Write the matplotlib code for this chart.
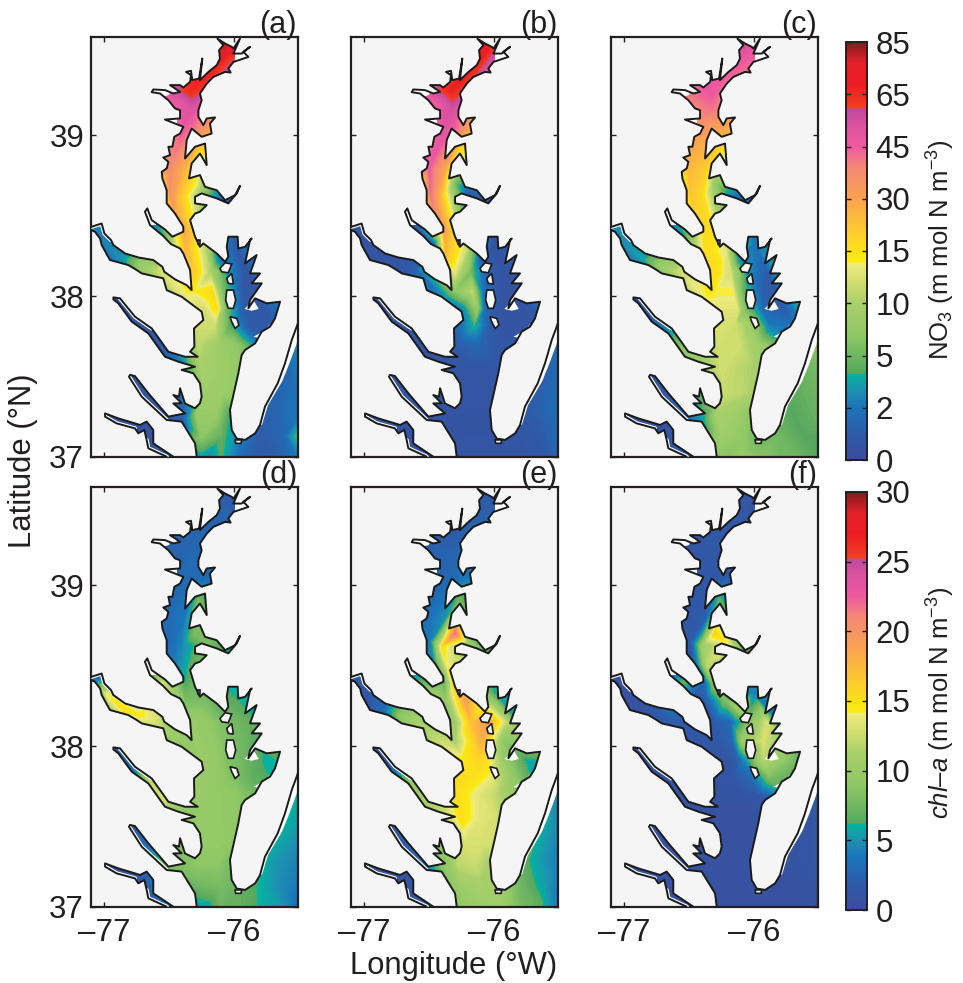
import numpy as np
import matplotlib
matplotlib.use("Agg")
import matplotlib.pyplot as plt
from matplotlib.colors import LinearSegmentedColormap, Normalize
from matplotlib.cm import ScalarMappable
from matplotlib.patches import Polygon
from matplotlib.tri import Triangulation

plt.rcParams['font.family'] = ['Liberation Sans', 'DejaVu Sans']
plt.rcParams['mathtext.fontset'] = 'custom'
plt.rcParams['mathtext.rm'] = 'Liberation Sans'
plt.rcParams['mathtext.it'] = 'Liberation Sans:italic'
plt.rcParams['mathtext.default'] = 'regular'

# ---------- shoreline (lon, lat) ----------
COAST = [
 (-76.128,39.600),(-76.082,39.559),(-76.115,39.528),(-76.108,39.476),(-76.133,39.435),(-76.197,39.393),
 (-76.262,39.342),(-76.244,39.476),(-76.269,39.352),(-76.321,39.342),(-76.331,39.400),(-76.369,39.393),
 (-76.331,39.373),(-76.338,39.331),(-76.390,39.296),(-76.415,39.311),(-76.492,39.311),(-76.415,39.269),
 (-76.467,39.259),(-76.531,39.280),(-76.621,39.284),(-76.633,39.267),(-76.569,39.259),(-76.505,39.217),
 (-76.454,39.166),(-76.415,39.155),(-76.415,39.104),(-76.531,39.097),(-76.441,39.068),(-76.390,39.052),
 (-76.415,39.010),(-76.459,38.990),(-76.474,38.928),(-76.505,38.928),(-76.492,38.876),(-76.544,38.861),
 (-76.505,38.834),(-76.518,38.793),(-76.556,38.772),(-76.551,38.731),(-76.518,38.658),(-76.518,38.576),
 (-76.454,38.513),(-76.390,38.431),(-76.390,38.400),(-76.474,38.369),(-76.531,38.414),(-76.633,38.472),
 (-76.667,38.545),(-76.685,38.524),(-76.646,38.441),(-76.544,38.373),(-76.485,38.323),(-76.415,38.296),
 (-76.390,38.265),(-76.338,38.162),(-76.326,38.037),(-76.364,38.068),(-76.454,38.104),(-76.536,38.151),
 (-76.551,38.182),(-76.621,38.224),(-76.736,38.240),(-76.838,38.265),(-76.928,38.317),(-76.946,38.348),
 (-76.997,38.389),(-77.018,38.451),(-77.095,38.431),(-77.150,38.400),(-77.100,38.410),(-77.070,38.400),
 (-77.030,38.358),(-77.018,38.317),(-76.954,38.224),(-76.813,38.193),(-76.749,38.162),(-76.710,38.141),
 (-76.544,38.110),(-76.518,38.037),(-76.403,37.996),(-76.249,37.903),(-76.236,37.851),(-76.308,37.799),
 (-76.305,37.686),(-76.338,37.654),(-76.279,37.623),(-76.377,37.623),(-76.505,37.654),(-76.569,37.727),
 (-76.633,37.799),(-76.762,37.872),(-76.877,37.986),(-76.928,37.992),(-76.928,37.979),(-76.890,37.955),
 (-76.787,37.841),(-76.659,37.768),(-76.531,37.623),(-76.428,37.592),(-76.300,37.561),(-76.403,37.541),
 (-76.313,37.520),(-76.262,37.458),(-76.249,37.375),(-76.262,37.334),(-76.300,37.303),(-76.377,37.333),
 (-76.415,37.427),(-76.423,37.375),(-76.467,37.385),(-76.403,37.334),(-76.467,37.333),(-76.377,37.271),
 (-76.505,37.251),(-76.659,37.396),(-76.762,37.503),(-76.800,37.510),(-76.808,37.499),(-76.710,37.375),
 (-76.518,37.230),(-76.403,37.220),(-76.300,37.085),(-76.287,37.002),(-76.295,36.961),(-76.459,36.961),
 (-76.467,37.002),(-76.621,37.085),(-76.621,37.168),(-76.672,37.220),(-76.723,37.199),(-76.762,37.209),
 (-76.890,37.240),(-76.992,37.271),(-76.992,37.251),(-76.903,37.209),(-76.762,37.178),(-76.736,37.147),
 (-76.690,37.168),(-76.672,37.106),(-76.659,37.054),(-76.518,37.002),(-76.518,36.900),(-75.300,36.900),
 (-75.300,37.900),(-75.480,37.900),(-75.518,37.810),(-75.556,37.727),(-75.608,37.582),(-75.664,37.458),
 (-75.762,37.313),(-75.800,37.199),(-75.838,37.147),(-75.915,37.106),(-75.941,37.110),(-75.979,37.114),
 (-76.018,37.168),(-76.031,37.292),(-75.967,37.520),(-75.941,37.634),(-75.915,37.665),(-75.838,37.706),
 (-75.787,37.779),(-75.723,37.810),(-75.685,37.861),(-75.646,37.965),(-75.749,37.955),(-75.838,37.986),
 (-75.890,37.924),(-75.877,37.975),(-75.787,38.079),(-75.864,38.079),(-75.800,38.141),(-75.877,38.141),
 (-75.826,38.255),(-75.915,38.203),(-75.877,38.348),(-75.864,38.358),(-75.915,38.306),(-75.967,38.296),
 (-75.972,38.369),(-76.044,38.369),(-76.056,38.306),(-76.044,38.244),(-76.069,38.213),(-76.133,38.265),
 (-76.236,38.327),(-76.262,38.306),(-76.300,38.369),(-76.338,38.472),(-76.300,38.513),(-76.262,38.524),
 (-76.210,38.565),(-76.300,38.576),(-76.300,38.617),(-76.249,38.638),(-76.133,38.607),(-76.044,38.576),
 (-75.979,38.638),(-75.954,38.685),(-75.992,38.627),(-76.069,38.596),(-76.133,38.658),(-76.223,38.679),
 (-76.262,38.752),(-76.346,38.731),(-76.326,38.824),(-76.262,38.886),(-76.210,38.814),(-76.223,38.948),
 (-76.300,38.928),(-76.377,38.855),(-76.364,38.969),(-76.326,39.041),(-76.249,38.990),(-76.172,39.010),
 (-76.185,39.072),(-76.146,39.110),(-76.210,39.104),(-76.236,39.062),(-76.274,39.114),(-76.274,39.155),
 (-76.249,39.217),(-76.262,39.259),(-76.210,39.320),(-76.159,39.362),(-76.069,39.393),(-76.026,39.389),
 (-76.044,39.414),(-76.005,39.455),
 (-75.890,39.486),(-75.928,39.518),(-75.877,39.549),(-75.941,39.507),(-76.005,39.507),(-75.954,39.600),
 (-76.005,39.538),(-76.018,39.549),(-76.070,39.570),
]
ISLANDS = [
 [(-76.056,38.037),(-76.005,38.037),(-75.987,37.975),(-76.005,37.924),(-76.044,37.924),(-76.064,37.975)],
 [(-76.031,37.872),(-75.979,37.861),(-75.962,37.820),(-75.992,37.799),(-76.018,37.841)],
 [(-76.108,38.172),(-76.069,38.207),(-76.018,38.199),(-76.044,38.145),(-76.095,38.151)],
 [(-76.056,38.110),(-76.018,38.141),(-76.005,38.075),(-76.044,38.079)],
 [(-75.992,37.106),(-75.941,37.106),(-75.946,37.085),(-75.987,37.085)],
 [(-76.275,38.350),(-76.258,38.350),(-76.258,38.325),(-76.275,38.325)],
]
# Water areas the model field does not cover (left white in all panels)
UNCOVERED = [
 [(-75.518,37.81),(-75.556,37.727),(-75.608,37.582),(-75.664,37.458),(-75.762,37.313),(-75.800,37.199),
  (-75.785,37.20),(-75.74,37.32),(-75.63,37.47),(-75.575,37.58),(-75.52,37.70),(-75.49,37.80)],
 [(-76.70,39.35),(-76.46,39.35),(-76.50,39.25),(-76.70,39.20)],
 [(-76.70,39.13),(-76.44,39.13),(-76.44,39.05),(-76.70,39.05)],
 [(-75.99,39.65),(-75.80,39.65),(-75.80,39.46),(-75.99,39.46)],
 [(-76.31,39.50),(-76.22,39.50),(-76.25,39.365),(-76.31,39.35)],
 [(-76.40,39.42),(-76.32,39.42),(-76.32,39.35),(-76.40,39.35)],
 [(-76.20,39.65),(-76.09,39.65),(-76.09,39.575),(-76.20,39.575)],
 [(-75.92,37.92),(-75.85,37.975),(-75.81,37.92),(-75.864,37.909)],
 [(-75.85,37.747),(-75.76,37.789),(-75.72,37.83),(-75.787,37.737)],
 [(-76.70,38.56),(-76.60,38.56),(-76.60,38.44),(-76.70,38.44)],
]
# Bank stretches of the rivers where a thin white strip remains
BANK_GAPS = [
 [(-76.877,37.986),(-76.762,37.872),(-76.633,37.799)],
 [(-76.808,37.499),(-76.710,37.375),(-76.518,37.230)],
 [(-76.992,37.251),(-76.903,37.209),(-76.762,37.178)],
 [(-76.672,37.106),(-76.659,37.054),(-76.518,37.002)],
 [(-77.095,38.431),(-77.018,38.451),(-76.997,38.389),(-76.946,38.348)],
]

# ---------- stations: upper bay, mid bay, lower bay, ocean, rivers ----------
ST_LON = [-76.08,-76.07,-76.13,-76.22,-76.33,-76.40,-76.32,-76.38,-76.31,-76.20,
          -76.42,-76.34,-76.27,-76.50,-76.38,-76.30,-76.20,-76.08,-76.49,-76.40,-76.46,-76.36,-76.38,-76.30,
          -76.37,-76.22,-76.10,-76.30,-76.18,-76.05,-75.90,-76.30,-76.17,-76.09,-75.93,
          -76.24,-76.13,-76.07,-75.93,-75.76,-76.28,-76.15,-76.03,-75.88,-76.28,-76.12,-75.98,
          -76.25,-76.12,-76.00,-76.22,-76.10,-76.00,-76.28,-76.14,-76.04,-76.25,-76.10,-75.97,
          -76.25,-76.10,-75.95,-75.80,-75.65,-75.45,
          -75.80,-75.62,-75.45,-75.72,-75.45,-75.58,-75.45,-75.45,
          -77.10,-76.98,-76.85,-76.72,-76.60,-76.47,-76.36,
          -76.65,-76.55,-76.45,
          -76.88,-76.78,-76.65,-76.55,-76.40,
          -76.79,-76.67,-76.53,-76.40,
          -76.97,-76.78,-76.66,-76.55,
          -76.58,-76.46,-75.95,-76.00]
ST_LAT = [39.58,39.52,39.46,39.38,39.28,39.21,39.17,39.10,39.03,39.04,
          38.95,38.93,38.90,38.80,38.78,38.70,38.64,38.60,38.65,38.62,38.52,38.50,38.40,38.38,
          38.28,38.28,38.24,38.15,38.15,38.15,38.15,38.03,38.03,38.03,38.03,
          37.92,37.92,37.92,37.92,37.92,37.82,37.82,37.82,37.80,37.70,37.70,37.70,
          37.55,37.55,37.55,37.40,37.40,37.40,37.27,37.27,37.27,37.13,37.13,37.13,
          36.95,36.95,36.95,36.95,36.95,36.95,
          37.13,37.13,37.13,37.30,37.30,37.55,37.55,37.80,
          38.42,38.32,38.23,38.19,38.15,38.06,38.00,
          38.50,38.39,38.33,
          37.96,37.86,37.78,37.67,37.60,
          37.50,37.37,37.24,37.22,
          37.26,37.19,37.12,37.00,
          39.27,39.11,39.52,38.33]

NO3_A = [80,78,70,70,66,50,52,50,40,32,
         42,35,18,38,25,14,5,1,35,20,30,18,28,17,
         25,11,1,20,10,3,.5,14,17,6,.8,
         12,15,6,1,.8,12,12,4,1,11,9,7,
         10,9,8,9,8.5,8,8,8,4,7,4.5,2.5,
         2,4,1.5,1,1,3,
         1,1.5,7,1.2,2.5,1.5,3.5,3.8,
         2.5,2.5,3.2,8,11,12.5,13.5,
         1.5,3.5,12,
         .5,.5,.5,.7,2.5,
         .5,.5,.6,1,
         .5,.5,.5,.5,
         45,40,60,1]
NO3_B = [75,72,70,70,68,50,55,52,45,30,
         48,38,16,45,28,5,1,.5,42,22,38,20,30,16,
         25,12,1,13,5,1,.5,7,11,2,.5,
         2.5,8,1.5,.5,.5,1.5,4,1,.5,1,1.5,.8,
         .7,.7,.7,.7,.7,.7,.6,.6,.6,.6,.6,.6,
         .7,.7,.7,.7,.7,1.5,
         .7,1,2,1,2,1.2,2,2.5,
         .5,.5,.6,.7,1.2,2,3.5,
         .7,1,2.5,
         .5,.5,.5,.5,.6,
         .5,.5,.5,.6,
         .5,.5,.5,.5,
         45,38,50,.5]
NO3_C = [55,50,47,45,47,42,42,38,30,28,
         28,25,16,25,20,8,3,1,22,17,20,16,17,15,
         16,13,1.5,16,12,3,1,14,14,5,1,
         13,13,6,1.5,1,12.5,12,9,2.5,12,12,9,
         12,11,10,11.5,11,10,10,9,7,9,7.5,5,
         6,8,7,5,5,4,
         5,4,4,4,5,5,6,8,
         3,3,3.5,8,11,13,14,
         2,3,10,
         .5,1,3,7,9,
         .5,.7,1.5,3,
         .5,.5,.6,1,
         40,35,45,2]
CHL_D = [2,2,2.5,2.5,2.5,2.5,3,3,3,3,
         3,3.5,8,3,4,8,8,6,3,4.5,4,6,6,7.5,
         8,8,6.5,10,9,8,7,10,9.5,8.5,7.5,
         10,9.5,8.5,7.5,6,10,9.5,8.5,7,10,9.5,9,
         9.5,9.5,9,9.5,9.5,9,9,9,8,7.5,8,7,
         4.5,7,7,6,5.5,3,
         6,4.5,3.5,5.5,4,6,5,6,
         2,14,15,14.5,13,10,9,
         3,13,10,
         2,3,12,13,9,
         1,3,8,8,
         1,1.5,2,3,
         2,2.5,2,6]
CHL_E = [2,2,2,2,2,2.5,2.5,2.5,3,4,
         3,4,7.5,3.5,5,22,10,7,4,15,5,14,7,16,
         9,19,14,10,17,19,12,11,15.5,18,9,
         14.5,15.5,15.5,10,6,15.5,15,14,10,15,13.5,12,
         15,13.5,13,13,13,13,12,12.5,11,10.5,11,11,
         9,10,10.5,8,7,3,
         7.5,5.5,3,6,3.5,5.5,3.5,3.5,
         1.5,1.5,3,9,11,12,13,
         3,7,10,
         1,2.5,9,11,12,
         1,1.5,3,8,
         .8,.8,.8,1.5,
         2,2.5,2,6]
CHL_F = [1.5,1.5,1.5,1.5,1.5,1.5,1.5,1.5,1.5,2,
         1.5,2,7,1.5,2,16,14,7,1.5,10,2,12,3,9,
         2,8,11,1.8,3,8,13,1.5,2.5,10,13,
         1,2,5,12,9,1,1.5,3,8,1,1,1.5,
         .8,.8,.8,.8,.8,.8,.8,.8,.8,.8,.8,.8,
         .8,.8,.8,.8,.8,1,
         .8,1,1.2,1,1.5,1.2,2,2.5,
         .8,.8,1,2,2,1.5,1.5,
         1,7,2,
         .8,.8,.8,.8,.8,
         .8,.8,.8,.8,
         .8,.8,.8,.8,
         1,1.5,1,4]

NO3_TICKS = [0,2,5,10,15,30,45,65,85]
CHL_TICKS = [0,5,10,15,20,25,30]
LON_TICKS = [-77,-76]
LAT_TICKS = [37,38,39]
PANEL_LABELS = ['(a)','(b)','(c)','(d)','(e)','(f)']

CMAP = LinearSegmentedColormap.from_list('nc', [
 (0.000,'#3b4c9b'),(0.060,'#2f5aa8'),(0.125,'#1a75bb'),(0.165,'#1e8fb0'),(0.208,'#00b79d'),
 (0.209,'#57a85f'),(0.300,'#8fc866'),(0.376,'#a8d06a'),(0.430,'#d6df70'),(0.471,'#f0ec80'),
 (0.472,'#fbed10'),(0.550,'#fdc930'),(0.625,'#f9a350'),(0.700,'#f58875'),(0.750,'#ee5aa0'),
 (0.800,'#dc52a0'),(0.841,'#bc4a9b'),(0.842,'#f04022'),(0.900,'#ed1c24'),(0.950,'#e5202a'),
 (1.000,'#7f1d1d')], N=512)

W, H = 963, 983
INK = '#231f20'
fig = plt.figure(figsize=(W/100, H/100), dpi=100, facecolor='white')

def rect(x0, y0, x1, y1):
    return [x0/W, 1-y1/H, (x1-x0)/W, (y1-y0)/H]

PX = [(91,298),(351,558),(611,818)]
PY = [(37,457),(487,907)]
tri = Triangulation(np.array(ST_LON), np.array(ST_LAT))
levels = np.linspace(0, 1, 161)
no3_pos = lambda v: np.interp(v, NO3_TICKS, np.linspace(0, 1, len(NO3_TICKS)))
chl_pos = lambda v: np.asarray(v, float)/30
fields = [no3_pos(NO3_A), no3_pos(NO3_B), no3_pos(NO3_C), chl_pos(CHL_D), chl_pos(CHL_E), chl_pos(CHL_F)]

for i, f in enumerate(fields):
    r, c = divmod(i, 3)
    ax = fig.add_axes(rect(PX[c][0], PY[r][0], PX[c][1], PY[r][1]), facecolor='#f5f5f5')
    ax.set_xlim(-77.1, -75.508); ax.set_ylim(37, 39.61)
    water = Polygon(COAST, closed=True, facecolor='white', edgecolor='none', zorder=1)
    ax.add_patch(water)
    cs = ax.tricontourf(tri, f, levels=levels, cmap=CMAP, vmin=0, vmax=1, zorder=2, antialiased=False)
    cs.set_clip_path(water)
    for g in UNCOVERED:
        p = Polygon(g, closed=True, facecolor='white', edgecolor='none', zorder=2.5)
        ax.add_patch(p); p.set_clip_path(water)
    for b in BANK_GAPS:
        ln, = ax.plot(*zip(*b), color='white', lw=3, zorder=2.6, solid_capstyle='round')
        ln.set_clip_path(water)
    ax.add_patch(Polygon(COAST, closed=True, fill=False, edgecolor='#1a1a1a', lw=1.4, zorder=3, joinstyle='round'))
    for isl in ISLANDS:
        ax.add_patch(Polygon(isl, closed=True, facecolor='#f5f5f5', edgecolor='#1a1a1a', lw=1.2, zorder=4))
    ax.set_xticks(LON_TICKS); ax.set_yticks(LAT_TICKS)
    ax.tick_params(direction='in', length=3.5, width=1, top=True, right=True, color=INK,
                   labelsize=22.5, labelcolor=INK)
    ax.tick_params(axis='x', pad=8)
    ax.tick_params(axis='y', pad=5)
    ax.set_xticklabels([f'–{abs(t)}' for t in LON_TICKS] if r == 1 else [])
    ax.set_yticklabels([str(t) for t in LAT_TICKS] if c == 0 else [])
    for s in ax.spines.values():
        s.set_linewidth(1.6); s.set_color(INK)
    fig.text((PX[c][1]-1)/W, 1-(PY[r][0]-4)/H, PANEL_LABELS[i], ha='right', va='baseline', fontsize=22, color=INK)

for (y0, y1), ticks, pos, label, yc in [
    ((42,460), NO3_TICKS, np.linspace(0,1,len(NO3_TICKS)), r'NO$_3$ (m mol N m$^{-3}$)', 250),
    ((492,910), CHL_TICKS, np.linspace(0,1,len(CHL_TICKS)), r'$\mathit{chl}$–$\mathit{a}$ (m mol N m$^{-3}$)', 703)]:
    cax = fig.add_axes(rect(846, y0, 867, y1))
    cb = fig.colorbar(ScalarMappable(Normalize(0, 1), CMAP), cax=cax)
    cb.set_ticks(pos); cb.set_ticklabels([str(t) for t in ticks])
    cax.tick_params(direction='in', length=3.5, width=1, left=True, right=True, color=INK,
                    labelsize=22.5, labelcolor=INK, pad=6)
    cb.outline.set_linewidth(1.4); cb.outline.set_edgecolor(INK)
    fig.text(941/W, 1-yc/H, label, rotation=90, ha='center', va='center', fontsize=18.5, color=INK)

fig.text(23/W, 1-461/H, 'Latitude (°N)', rotation=90, ha='center', va='center', fontsize=22.3, color=INK)
fig.text(454/W, 1-966/H, 'Longitude (°W)', ha='center', va='center', fontsize=22.3, color=INK)
fig.savefig('out.png', dpi=100)
